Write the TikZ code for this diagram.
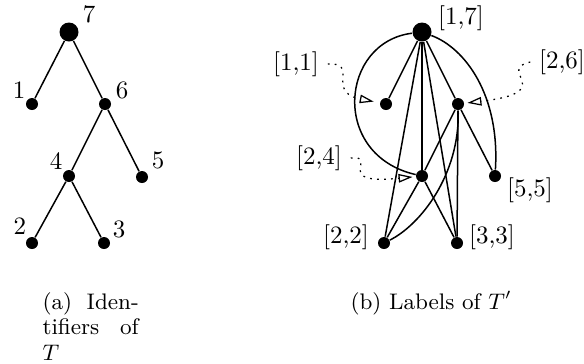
\documentclass[tikz,border=0pt]{standalone}
\usepackage{amsmath}
\usepackage{tikz}
\usetikzlibrary{arrows.meta}

\tikzset{
    vertex/.style={circle, fill, inner sep=0pt, minimum size=4.8pt},
    rootvertex/.style={circle, fill, inner sep=0pt, minimum size=7.6pt},
    edge/.style={line width=0.6pt},
    pointer/.style={line width=0.5pt, dash pattern=on 0.7pt off 2.1pt, -{Triangle[open, length=5.6pt, width=3.4pt]}},
}

\begin{document}
\begin{tikzpicture}[x=0.4pt, y=-0.4pt]
\useasboundingbox (0,0) rectangle (584,363);

% (a) Tree T with identifiers
\node[rootvertex] (t7) at (69,32) {};
\foreach \name/\x/\y in {t1/32/104, t6/105/104, t4/69/176, t5/142/177, t2/32/243, t3/104/243}
    \node[vertex] (\name) at (\x,\y) {};
\foreach \a/\b in {t7/t1, t7/t6, t6/t4, t6/t5, t4/t2, t4/t3}
    \draw[edge] (\a) -- (\b);

\foreach \name/\x/\y/\txt in {id7/89/14/7, id1/19/90/1, id6/122/90/6, id4/56/161/4, id5/158/160/5, id2/20/226/2, id3/119/229/3}
    \node (\name) at (\x,\y) {\txt};

% (b) Tree T' with labels
\node[rootvertex] (r17) at (422,32) {};
\foreach \name/\x/\y in {r11/386/104, r26/458/104, r24/422/176, r55/495/176, r22/384/243, r33/457/243}
    \node[vertex] (\name) at (\x,\y) {};
\foreach \a/\b in {r17/r11, r17/r26, r17/r24, r17/r22, r17/r33, r26/r24, r26/r55, r26/r33, r24/r22, r24/r33}
    \draw[edge] (\a) -- (\b);

% curved edges
\draw[edge] (r17) .. controls (340,42) and (330,155) .. (r24);
\draw[edge] (r17) .. controls (465,48) and (500,95) .. (r55);
\draw[edge] (r22) .. controls (420,225) and (460,175) .. (r26);

\foreach \name/\x/\y/\txt in {l17/461/18/{[1,7]}, l11/296/64/{[1,1]}, l26/562/62/{[2,6]}, l24/319/158/{[2,4]}, l55/530/190/{[5,5]}, l22/346/237/{[2,2]}, l33/492/237/{[3,3]}}
    \node (\name) at (\x,\y) {\txt};

% dotted pointers
\draw[pointer, shorten >=2.4pt] (l11.east) .. controls (360,62) and (325,92) .. (r11);
\draw[pointer, shorten >=1.2pt] (l26.west) .. controls (495,70) and (560,92) .. (r26);
\draw[pointer, shorten >=1.2pt] (l24.east) .. controls (380,155) and (330,185) .. (r24);

% captions
\node[anchor=north west, inner sep=0pt, align=left, font=\small] (capa) at (42,292)
    {\makebox[38.5pt][s]{(a) Iden-}\\[-0.8pt]\makebox[38.5pt][s]{tifiers of}\\[-0.8pt]$T$};
\node[anchor=base west, inner sep=0pt, font=\small] (capb) at (350,309) {(b) Labels of $T'$};
\end{tikzpicture}
\end{document}
